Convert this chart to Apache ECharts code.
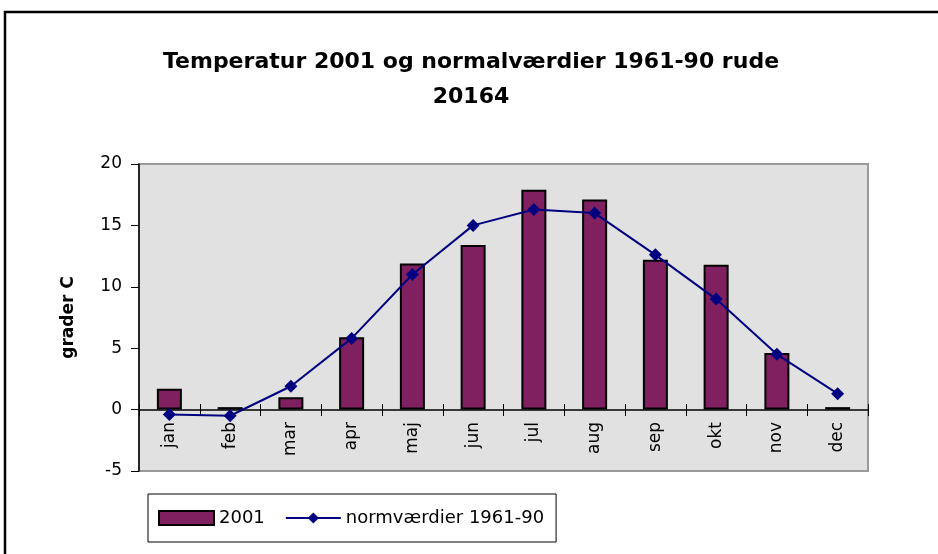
<!DOCTYPE html>
<html>
<head>
<meta charset="utf-8">
<script src="https://cdn.jsdelivr.net/npm/echarts@6/dist/echarts.min.js"></script>
<style>
  html, body { margin: 0; padding: 0; background: #fff; }
  #chart { width: 938px; height: 554px; }
</style>
</head>
<body>
<div id="chart"></div>
<script>
// data
var months = ['jan', 'feb', 'mar', 'apr', 'maj', 'jun', 'jul', 'aug', 'sep', 'okt', 'nov', 'dec'];
var temp2001 = [1.7, 0.2, 1.0, 5.9, 11.9, 13.4, 17.9, 17.1, 12.2, 11.8, 4.6, 0.2];
var norm6190 = [-0.4, -0.5, 1.9, 5.8, 11.0, 15.0, 16.3, 16.0, 12.6, 9.0, 4.5, 1.3];
var yTicks = [-5, 0, 5, 10, 15, 20];

var font = 'DejaVu Sans, Liberation Sans, Arial, sans-serif';
// zero line sits 61px above the bottom of the plot
var zeroOffset = -61;

var chart = echarts.init(document.getElementById('chart'));
chart.setOption({
  animation: false,
  textStyle: { fontFamily: font, color: '#000' },
  // outer frame (only left and top edges are visible)
  graphic: [{
    type: 'rect',
    shape: { x: 5, y: 12, width: 960, height: 600 },
    style: { fill: 'none', stroke: '#000', lineWidth: 2.5 },
    silent: true
  }],
  title: {
    text: 'Temperatur 2001 og normalværdier 1961-90 rude\n20164',
    left: 466,
    textAlign: 'center',
    top: 40,
    textStyle: { fontFamily: font, fontSize: 22, fontWeight: 'bold', lineHeight: 35, color: '#000' }
  },
  legend: {
    left: 148,
    top: 494,
    orient: 'horizontal',
    backgroundColor: '#fff',
    borderColor: '#000',
    borderWidth: 1,
    padding: [15, 12, 15, 10],
    itemGap: 20,
    itemWidth: 55,
    itemHeight: 14,
    textStyle: { fontFamily: font, fontSize: 18, color: '#000' },
    data: [{ name: '2001', icon: 'rect' }, { name: 'normværdier 1961-90' }]
  },
  grid: {
    left: 139,
    right: 70,
    top: 164,
    bottom: 83,
    show: true,
    backgroundColor: '#e1e1e1',
    borderColor: '#9a9a9a',
    borderWidth: 2
  },
  xAxis: [{
    type: 'category',
    data: months,
    offset: zeroOffset,
    axisLine: { onZero: false, lineStyle: { color: '#000', width: 1.5 } },
    axisTick: { show: true, interval: 0, length: 6, lineStyle: { color: '#000' } },
    axisLabel: { rotate: 90, fontSize: 17, color: '#000', margin: 12, fontFamily: font }
  }, {
    // second copy only for the inward half of the crossing ticks
    type: 'category',
    data: months,
    position: 'bottom',
    offset: zeroOffset,
    axisLine: { show: false, onZero: false },
    axisTick: { show: true, inside: true, interval: 0, length: 6, lineStyle: { color: '#000' } },
    axisLabel: { show: false }
  }],
  yAxis: {
    type: 'value',
    min: yTicks[0],
    max: yTicks[yTicks.length - 1],
    interval: 5,
    name: 'grader C',
    nameLocation: 'middle',
    nameGap: 62,
    nameTextStyle: { fontFamily: font, fontSize: 17, fontWeight: 'bold', color: '#000' },
    axisLine: { show: true, lineStyle: { color: '#000', width: 1.5 } },
    axisTick: { show: true, length: 8, lineStyle: { color: '#000' } },
    axisLabel: { fontSize: 17, color: '#000', margin: 17, fontFamily: font },
    splitLine: { show: false }
  },
  series: [
    {
      name: '2001',
      type: 'bar',
      data: temp2001,
      barWidth: 25,
      itemStyle: { color: '#802060', borderColor: '#000', borderWidth: 2 }
    },
    {
      name: 'normværdier 1961-90',
      type: 'line',
      data: norm6190,
      symbol: 'diamond',
      symbolSize: 13,
      lineStyle: { color: '#000080', width: 2 },
      itemStyle: { color: '#000080' }
    }
  ]
});
</script>
</body>
</html>
